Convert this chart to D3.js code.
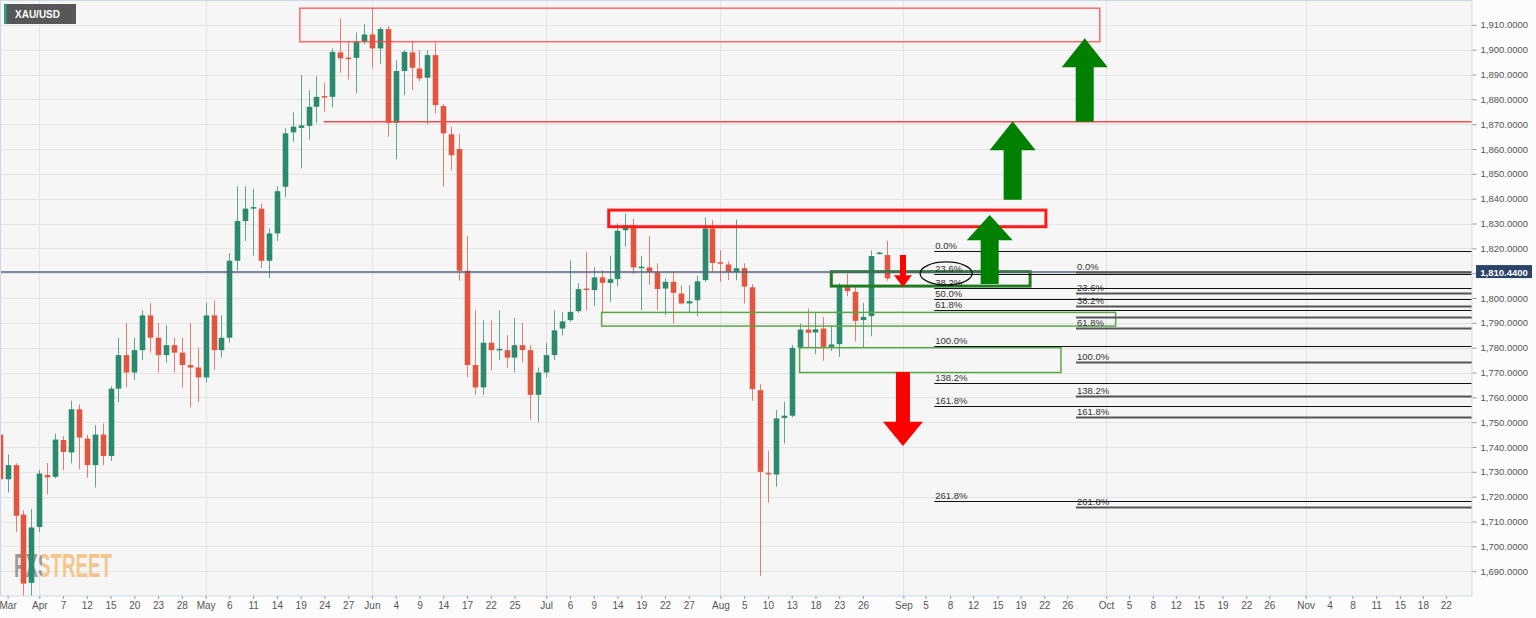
<!DOCTYPE html>
<html>
<head>
<meta charset="utf-8">
<script src="https://cdn.jsdelivr.net/npm/d3@7"></script>
<style>
  body { margin: 0; background: #fcfcfc; }
  svg text { font-family: "Liberation Sans", Arial, sans-serif; }
</style>
</head>
<body>
<div id="chart"></div>
<script>
// daily XAU/USD candles, 2021 (index 0 = Mar 25)
var dates = ["03-25","03-26","03-29","03-30","03-31","04-01","04-05","04-06","04-07","04-08","04-09",
  "04-12","04-13","04-14","04-15","04-16","04-19","04-20","04-21","04-22","04-23",
  "04-26","04-27","04-28","04-29","04-30","05-03","05-04","05-05","05-06","05-07",
  "05-10","05-11","05-12","05-13","05-14","05-17","05-18","05-19","05-20","05-21",
  "05-24","05-25","05-26","05-27","05-28","05-31","06-01","06-02","06-03","06-04",
  "06-07","06-08","06-09","06-10","06-11","06-14","06-15","06-16","06-17","06-18",
  "06-21","06-22","06-23","06-24","06-25","06-28","06-29","06-30","07-01","07-02",
  "07-05","07-06","07-07","07-08","07-09","07-12","07-13","07-14","07-15","07-16",
  "07-19","07-20","07-21","07-22","07-23","07-26","07-27","07-28","07-29","07-30",
  "08-02","08-03","08-04","08-05","08-06","08-09","08-10","08-11","08-12","08-13",
  "08-16","08-17","08-18","08-19","08-20","08-23","08-24","08-25","08-26","08-27",
  "08-30","08-31"];
var opens = [1745,1727,1732.7,1712.8,1685.3,1707.8,1728.7,1728,1742.8,1737.8,1755.2,
  1743.4,1732.7,1745,1736.4,1763.5,1777,1770,1779,1793,1784,
  1777,1781,1778,1773,1772,1768,1793,1779,1784,1815,
  1831,1836,1836,1815,1826,1844.8,1866.7,1868.5,1869.3,1877,
  1881.3,1881,1898.9,1896.8,1896.7,1903.2,1906.1,1900.5,1908.3,1870.5,
  1891.4,1898.9,1892.4,1888.7,1897.8,1877.3,1865.9,1860,1811,1773,
  1764,1782,1779,1779,1776,1781,1779,1761,1770,1777,
  1787.7,1791.1,1794.7,1803.8,1803.2,1808.3,1806.1,1807.6,1827.3,1829.3,
  1812,1812.3,1810.3,1803.8,1806.5,1801.8,1797.8,1799.1,1807.2,1828,
  1814.4,1813.5,1810.5,1812,1804.3,1762.9,1729.6,1728.9,1751.7,1752.6,
  1780,1787.3,1786.1,1787.7,1780.3,1781.4,1804.6,1802.5,1791.1,1792.7,
  1817.9,1817.3];
var highs = [1752,1737,1733.5,1714.5,1715,1730.7,1733.6,1745.4,1744.4,1758.6,1757.2,
  1745,1748.8,1749.5,1764.5,1784,1790,1784,1795,1798,1790,
  1789,1784,1784,1790,1780,1798,1799,1793,1818,1845,
  1845,1844,1838,1828,1845,1868.4,1874.7,1889.7,1883.7,1889.3,
  1886.6,1900.5,1912.6,1903.4,1906.9,1910.3,1916.7,1909.2,1909.5,1895.8,
  1899.8,1903.6,1899.8,1899.8,1902.8,1878.1,1869,1866,1825,1795,
  1791,1791,1795,1785,1792,1790,1781,1772,1782,1795,
  1794.4,1815.2,1805.9,1818.6,1812.3,1811.2,1817,1830,1834,1832,
  1816.9,1824.9,1813.9,1807.9,1810.5,1805.2,1805.2,1808.9,1832.4,1831.3,
  1819.3,1814.8,1831.6,1813.9,1805.6,1765.3,1738.5,1754.9,1758.2,1781,
  1789.7,1795.8,1794.2,1792.4,1788.7,1806,1809.8,1805.2,1798,1819.1,
  1818.6,1823];
var lows = [1722,1721.7,1705.8,1677,1678,1705.8,1721,1727.3,1730.7,1733.4,1731,
  1727.6,1723.7,1732.7,1734.4,1758,1764,1767,1775,1778,1770,
  1774,1770,1764,1756,1758,1766,1771,1776,1782,1811,
  1823,1817,1812,1808,1823,1840.7,1862.9,1852.2,1863.8,1870.5,
  1875,1876.7,1890.7,1888,1882.4,1902.1,1892.4,1894.2,1864.9,1855.8,
  1881.7,1883.7,1887.3,1870,1874.3,1844.8,1851.5,1807,1768,1761,
  1761,1771,1775,1772,1770,1774,1751,1750,1768,1775,
  1785,1790.4,1794,1795.1,1796.7,1793.8,1798.5,1804.7,1820.6,1809.6,
  1795.1,1805.2,1795.1,1793.1,1789.7,1797.5,1794,1792.7,1806.5,1810.5,
  1806.5,1807.2,1807.2,1797.8,1758.6,1688,1717.5,1724,1741.4,1751.9,
  1779.5,1780.3,1777.4,1774.7,1778.7,1776.3,1800.7,1782.6,1780,1784.6,
  1817.6,1806.9];
var closes = [1727,1732.7,1712.3,1685,1707.6,1729.3,1727.8,1743,1738,1755.2,1743.8,
  1732.7,1745,1736.4,1763.5,1777,1770,1779,1793,1784,1777,
  1781,1778,1773,1772,1768,1793,1779,1784,1815,1831,
  1836,1836.6,1815,1826,1843,1866.3,1869,1869.5,1877,1881,
  1880.7,1899.1,1896.5,1896.3,1903.2,1906.1,1900.5,1908.3,1870.5,1891.4,
  1899.1,1892.7,1888.4,1897.8,1877.7,1866.3,1857.5,1811,1773,1764,
  1782,1779,1779.5,1776,1781,1779,1761,1770,1777,1787,
  1790.6,1794.4,1803.6,1803.2,1808.3,1806.1,1807.6,1827.1,1829.3,1812.3,
  1812.6,1810.5,1803.6,1806.5,1802.1,1797.8,1798.7,1806.7,1828,1814.1,
  1813.9,1810.5,1812,1804.6,1763.3,1730,1729.1,1751.5,1752.6,1779.9,
  1787.3,1786,1787.4,1780.3,1781.3,1804.6,1802.8,1790.8,1792.4,1816.9,
  1818.3,1807.9];

var lastPrice = 1810.44;
var priceTicks = [1690,1700,1710,1720,1730,1740,1750,1760,1770,1780,1790,1800,
  1810,1820,1830,1840,1850,1860,1870,1880,1890,1900,1910];

// bottom axis: historical ticks by date, future ticks by slot
var histTickDates = ["03-26","04-01","04-07","04-12","04-15","04-20","04-23","04-28","05-03","05-06",
  "05-11","05-14","05-19","05-24","05-27","06-01","06-04","06-09","06-14","06-17","06-22","06-25",
  "07-01","07-06","07-09","07-14","07-19","07-22","07-27","08-02","08-05","08-10","08-13","08-18",
  "08-23","08-26"];
var histTickLabels = ["Mar","Apr","7","12","15","20","23","28","May","6","11","14","19","24","27",
  "Jun","4","9","14","17","22","25","Jul","6","9","14","19","22","27","Aug","5","10","13","18","23","26"];
var futureTickSlots = [114.1,116.9,120,122.9,126,128.9,131.9,134.8,139.7,142.6,145.6,148.5,151.4,
  154.4,157.4,160.3,164.9,167.9,170.8,173.8,176.8,179.7,182.6];
var futureTickLabels = ["Sep","5","8","12","15","19","22","26","Oct","5","8","12","15","19","22","26",
  "Nov","4","8","11","15","18","22"];
var monthLabels = ["Apr","May","Jun","Jul","Aug","Sep","Oct","Nov"];

// fibonacci sets
var fib1Labels = ["0.0%","23.6%","38.2%","50.0%","61.8%","100.0%","138.2%","161.8%","261.8%"];
var fib1Levels = [1818.9,1809.8,1804.2,1799.7,1795.1,1780.5,1765.8,1756.6,1718.1];
var fib2Labels = ["0.0%","23.6%","38.2%","","61.8%","100.0%","138.2%","161.8%","261.8%"];
var fib2Levels = [1810.4,1801.9,1796.6,1792.35,1788.1,1774.3,1760.4,1751.9,1715.8];
var fib1Start = 118.0, fib2Start = 135.9;

// zones [slot0, slot1, priceTop, priceBottom]
var redZones = [[37.9, 138.9, 1916.7, 1903.2]];
var redThickZones = [[76.9, 132.1, 1835.4, 1828.7]];
var greenThickZones = [[105, 130.1, 1810.6, 1804.8]];
var greenZones = [[76, 140.9, 1794.2, 1788.7], [101, 134, 1780, 1770]];
var resistanceLine = [40.9, 1871];
// arrows [slot, tip, headBase, tail]
var upArrows = [[125, 1833.4, 1823.3, 1805.6], [127.9, 1871.2, 1859.5, 1839.6], [137, 1904.6, 1892.9, 1871]];
var downArrowSmall = [114.05, 1804.4, 1809.2, 1817.3];
var downArrowBig = [114.05, 1740.4, 1750.2, 1770.2];

var W = 1536, H = 618, PW = 1472, PH = 596;

var svg = d3.select("#chart").append("svg")
    .attr("width", W)
    .attr("height", H);

svg.append("rect").attr("width", W).attr("height", H).attr("fill", "#fcfcfc");
svg.append("rect").attr("width", PW).attr("height", PH).attr("fill", "#f6f6f6");

var x = d3.scaleLinear().domain([0, 186]).range([-0.3, 1472.8]);
var y = d3.scaleLinear().domain([1680, 1920]).range([PH, 0]);

var defs = svg.append("defs");
defs.append("clipPath").attr("id", "clip")
    .append("rect").attr("width", PW).attr("height", PH);
var wmGrad = defs.append("linearGradient").attr("id", "wmfill")
    .attr("gradientUnits", "userSpaceOnUse")
    .attr("x1", 14).attr("x2", 112).attr("y1", 0).attr("y2", 0);
wmGrad.append("stop").attr("offset", 0.29).attr("stop-color", "#7d7d7d");
wmGrad.append("stop").attr("offset", 0.29).attr("stop-color", "#f1b86a");

var plot = svg.append("g").attr("clip-path", "url(#clip)");

// ticks
var histSlots = histTickDates.map(function (d) { return dates.indexOf(d); });
var tickSlots = histSlots.concat(futureTickSlots);
var tickLabels = histTickLabels.concat(futureTickLabels);

// grid
plot.selectAll(".hg").data(priceTicks).join("line")
    .attr("x1", 0).attr("x2", PW)
    .attr("y1", function (d) { return Math.round(y(d)) + 0.5; })
    .attr("y2", function (d) { return Math.round(y(d)) + 0.5; })
    .attr("stroke", "#e4e4e4").attr("stroke-width", 1);
var monthSlots = tickSlots.filter(function (s, i) { return monthLabels.indexOf(tickLabels[i]) >= 0; });
plot.selectAll(".vg").data(monthSlots).join("line")
    .attr("x1", function (d) { return Math.round(x(d)) + 0.5; })
    .attr("x2", function (d) { return Math.round(x(d)) + 0.5; })
    .attr("y1", 0).attr("y2", PH)
    .attr("stroke", "#e4e4e4").attr("stroke-width", 1);

// watermark (one text, two-tone fill)
plot.append("text")
    .attr("x", 14).attr("y", 577)
    .attr("font-size", 33).attr("font-weight", "bold")
    .attr("textLength", 98).attr("lengthAdjust", "spacingAndGlyphs")
    .style("font-family", "'Liberation Sans Narrow', 'Liberation Sans', sans-serif")
    .attr("fill", "url(#wmfill)").attr("opacity", 0.75).text("FXSTREET");

// candles
var candles = dates.map(function (d, i) {
    return {i: i, o: opens[i], h: highs[i], l: lows[i], c: closes[i]};
});
var green = "#2b8a6e", red = "#df5641";
var bw = 5.6;
var node = plot.selectAll(".candle").data(candles).join("g").attr("class", "candle");
node.append("line")
    .attr("x1", function (d) { return Math.round(x(d.i)) + 0.5; })
    .attr("x2", function (d) { return Math.round(x(d.i)) + 0.5; })
    .attr("y1", function (d) { return y(d.h); })
    .attr("y2", function (d) { return y(d.l); })
    .attr("stroke", function (d) { return d.c >= d.o ? green : red; })
    .attr("stroke-opacity", 0.75);
node.append("rect")
    .attr("x", function (d) { return Math.round(x(d.i)) + 0.5 - bw / 2; })
    .attr("width", bw)
    .attr("y", function (d) { return y(Math.max(d.o, d.c)); })
    .attr("height", function (d) { return Math.max(1.5, Math.abs(y(d.o) - y(d.c))); })
    .attr("fill", function (d) { return d.c >= d.o ? green : red; });

// zones
function zone(sel, data, color, width) {
    sel.selectAll(null).data(data).join("rect")
        .attr("x", function (d) { return x(d[0]); })
        .attr("width", function (d) { return x(d[1]) - x(d[0]); })
        .attr("y", function (d) { return y(d[2]); })
        .attr("height", function (d) { return y(d[3]) - y(d[2]); })
        .attr("fill", "none").attr("stroke", color).attr("stroke-width", width);
}
zone(plot, redZones, "rgba(255,70,70,0.8)", 1.5);
zone(plot, redThickZones, "#ff1a1a", 3);
zone(plot, greenZones, "#5aa545", 1.5);
zone(plot, greenThickZones, "#1f7d1f", 3);

plot.append("line")
    .attr("x1", x(resistanceLine[0])).attr("x2", PW)
    .attr("y1", y(resistanceLine[1])).attr("y2", y(resistanceLine[1]))
    .attr("stroke", "#ff4a4a").attr("stroke-width", 1.5);

// current price line
plot.append("line")
    .attr("x1", 0).attr("x2", PW)
    .attr("y1", y(lastPrice)).attr("y2", y(lastPrice))
    .attr("stroke", "#56647f").attr("stroke-width", 1.5);

// fib sets
function fibSet(levels, labels, start, color, width, dy) {
    var g = plot.append("g");
    g.selectAll("line").data(levels).join("line")
        .attr("x1", x(start)).attr("x2", PW)
        .attr("y1", function (d) { return Math.round(y(d)) + 0.5; })
        .attr("y2", function (d) { return Math.round(y(d)) + 0.5; })
        .attr("stroke", color).attr("stroke-width", width);
    g.selectAll("text").data(levels).join("text")
        .attr("x", x(start) + 1)
        .attr("y", function (d) { return Math.round(y(d)) - dy; })
        .attr("font-size", 9.5).attr("fill", "#333")
        .text(function (d, i) { return labels[i]; });
}
fibSet(fib1Levels, fib1Labels, fib1Start, "#111", 1, 2);
fibSet(fib2Levels, fib2Labels, fib2Start, "#555", 2, 2);

plot.append("ellipse")
    .attr("cx", x(119.5)).attr("cy", y(1809.9))
    .attr("rx", 26).attr("ry", 11.5)
    .attr("fill", "none").attr("stroke", "#111").attr("stroke-width", 1.3);

// arrows
function arrowPath(a, hw, sw) {
    var cx = x(a[0]), t = y(a[1]), hb = y(a[2]), b = y(a[3]);
    return "M" + cx + "," + t + "L" + (cx + hw) + "," + hb + "L" + (cx + sw) + "," + hb +
        "L" + (cx + sw) + "," + b + "L" + (cx - sw) + "," + b + "L" + (cx - sw) + "," + hb +
        "L" + (cx - hw) + "," + hb + "Z";
}
plot.selectAll(".up").data(upArrows).join("path")
    .attr("d", function (d) { return arrowPath(d, 23, 9); })
    .attr("fill", "#008000");
plot.append("path").attr("d", arrowPath(downArrowSmall, 9, 3)).attr("fill", "#ff0000");
plot.append("path").attr("d", arrowPath(downArrowBig, 20, 7)).attr("fill", "#ff0000");

// plot border
svg.append("rect").attr("x", 0.5).attr("y", 0.5).attr("width", PW - 0.5).attr("height", PH - 0.5)
    .attr("fill", "none").attr("stroke", "#cfd8e6");

// right axis
var ya = svg.append("g").attr("transform", "translate(" + (PW + 0.5) + ",0)")
    .call(d3.axisRight(y).tickValues(priceTicks).tickFormat(d3.format(",.4f")).tickSize(4).tickPadding(4));
ya.select(".domain").remove();
ya.selectAll("line").attr("stroke", "#999");
ya.selectAll("text").attr("font-size", 9.5).attr("fill", "#555")
    .style("font-family", "'Liberation Sans', Arial, sans-serif");

// bottom axis
var xa = svg.append("g").attr("transform", "translate(0," + PH + ")")
    .call(d3.axisBottom(x).tickValues(tickSlots)
        .tickFormat(function (d, i) { return tickLabels[i]; }).tickSize(3).tickPadding(3));
xa.select(".domain").remove();
xa.selectAll("line").attr("stroke", "#999");
xa.selectAll("text").attr("font-size", 10).attr("fill", "#555")
    .style("font-family", "'Liberation Sans', Arial, sans-serif");

// price label
var pl = svg.append("g").attr("transform", "translate(" + (PW + 4) + "," + y(lastPrice) + ")");
pl.append("rect").attr("x", 0).attr("y", -7).attr("width", 56).attr("height", 13).attr("fill", "#2c4468");
pl.append("text").attr("x", 28).attr("y", 3.5).attr("text-anchor", "middle")
    .attr("font-size", 9.5).attr("font-weight", "bold").attr("fill", "#fff").text("1,810.4400");

// symbol tag
var tag = svg.append("g").attr("transform", "translate(4,4)");
tag.append("rect").attr("width", 72).attr("height", 20).attr("fill", "#575757");
tag.append("rect").attr("width", 2.5).attr("height", 20).attr("fill", "#2aa37d");
tag.append("text").attr("x", 11).attr("y", 14).attr("font-size", 10).attr("font-weight", "bold")
    .attr("fill", "#fff").text("XAU/USD");
</script>
</body>
</html>
